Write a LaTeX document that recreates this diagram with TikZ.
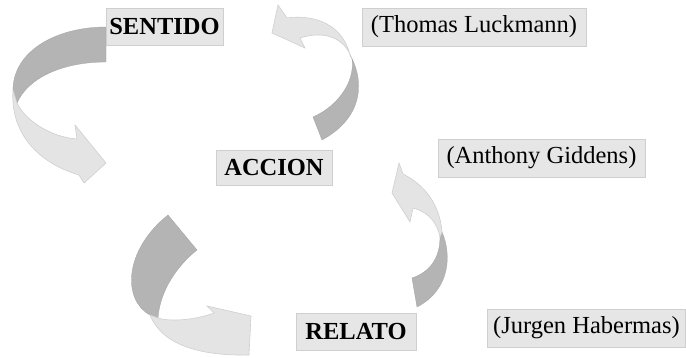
\documentclass[tikz,border=0pt]{standalone}
\usepackage{fontspec}
\setmainfont{Liberation Serif}

\definecolor{boxfill}{HTML}{E6E6E6}
\definecolor{boxline}{HTML}{CFCFCF}
\definecolor{ribbondark}{HTML}{B4B4B4}
\definecolor{ribbonlight}{HTML}{E4E4E4}

\tikzset{
    box/.style={draw=boxline, fill=boxfill, line width=0.8pt, inner sep=0pt,
        minimum height=37pt, font=\fontsize{24.5}{28}\selectfont},
    keyword/.style={box, font=\fontsize{24.5}{28}\selectfont\bfseries},
    backside/.style={fill=ribbondark, draw=ribbondark!90!black, line width=0.3pt},
    frontside/.style={fill=ribbonlight, draw=boxline, line width=0.6pt},
}

\begin{document}
\begin{tikzpicture}[x=1pt, y=-1pt]
    \useasboundingbox (0,0) rectangle (686,358);

    % ribbon from SENTIDO down to ACCION
    \draw[backside] (106,27) .. controls (55,27) and (13,52) .. (13,90)
        -- (17,103) .. controls (28,78) and (62,62) .. (106,62) -- cycle;
    \draw[frontside] (13,90) .. controls (10,130) and (35,162) .. (79,175)
        -- (84,183) -- (106,163) -- (75,125) -- (77,139)
        .. controls (50,137) and (25,120) .. (17,103) -- cycle;

    % ribbon from ACCION back up to SENTIDO
    \draw[backside] (350,55) .. controls (362,75) and (368,115) .. (322,140)
        -- (313,117) .. controls (340,105) and (355,80) .. (352,59) -- cycle;
    \draw[frontside] (350,55) .. controls (343,25) and (315,14) .. (287,18)
        -- (278,5) -- (272,33) -- (305,48) -- (300,38)
        .. controls (325,30) and (345,38) .. (352,59) -- cycle;

    % ribbon from ACCION down to RELATO
    \draw[backside] (168,215) -- (197,250)
        .. controls (178,265) and (160,290) .. (158,318)
        -- (150,315) .. controls (122,300) and (124,250) .. (168,215) -- cycle;
    \draw[frontside] (150,315) .. controls (162,345) and (200,356) .. (249,355)
        -- (251,316) -- (207,306) -- (214,313)
        .. controls (195,320) and (170,322) .. (158,318) -- cycle;

    % ribbon from RELATO up to ACCION
    \draw[backside] (417,307) .. controls (450,290) and (452,255) .. (442,232)
        -- (440,237) .. controls (440,258) and (430,272) .. (412,278) -- cycle;
    \draw[frontside] (442,232) .. controls (440,205) and (425,185) .. (403,174)
        -- (399,163) -- (392,193) -- (410,222) -- (413,208)
        .. controls (428,212) and (437,222) .. (440,237) -- cycle;

    % concepts
    \node[keyword, minimum width=117pt] (sentido) at (164.5,26.5) {SENTIDO};
    \node[keyword, minimum width=116pt, minimum height=35pt] (accion) at (274,167.5) {ACCION};
    \node[keyword, minimum width=120pt] (relato) at (356,331.5) {RELATO};

    % authors
    \node[box, minimum width=224pt, minimum height=38pt] (luckmann) at (474,27) {(Thomas Luckmann)};
    \node[box, minimum width=207pt, minimum height=38pt] (giddens) at (541.5,158) {(Anthony Giddens)};
    \node[box, minimum width=198pt, minimum height=38pt] (habermas) at (586.5,328) {(Jurgen Habermas)};
\end{tikzpicture}
\end{document}
